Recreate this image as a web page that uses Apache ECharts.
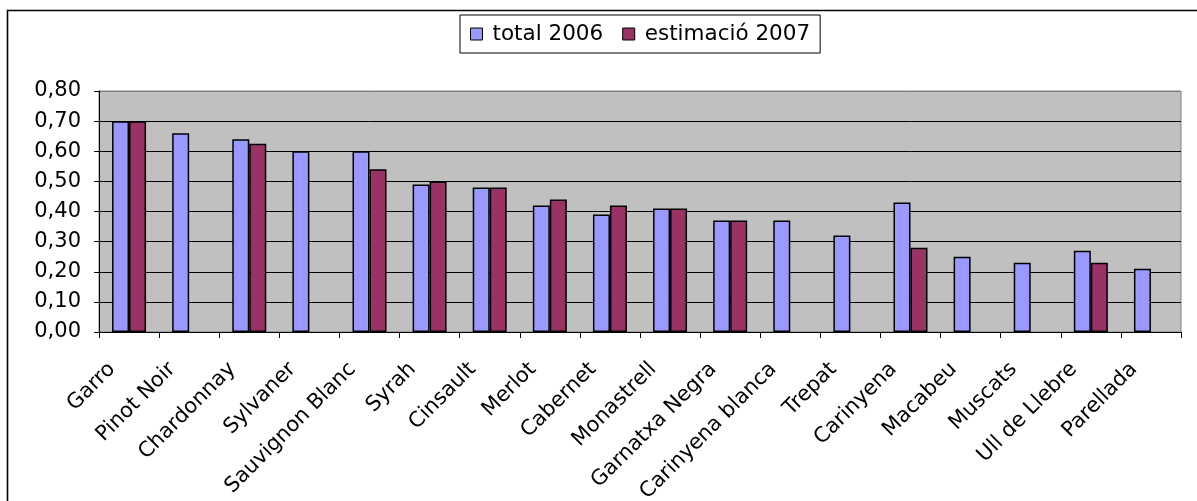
<!DOCTYPE html>
<html>
<head>
<meta charset="utf-8">
<script src="https://cdn.jsdelivr.net/npm/echarts@6/dist/echarts.min.js"></script>
<style>
html,body{margin:0;padding:0;background:#fff;}
#chart{width:1197px;height:501px;}
</style>
</head>
<body>
<div id="chart"></div>
<script>
const categories = ["Garro","Pinot Noir","Chardonnay","Sylvaner","Sauvignon Blanc","Syrah","Cinsault","Merlot","Cabernet","Monastrell","Garnatxa Negra","Carinyena blanca","Trepat","Carinyena","Macabeu","Muscats","Ull de Llebre","Parellada"];
const total2006 = [0.70,0.66,0.64,0.60,0.60,0.49,0.48,0.42,0.39,0.41,0.37,0.37,0.32,0.43,0.25,0.23,0.27,0.21];
const estimacio2007 = [0.70,null,0.625,null,0.54,0.50,0.48,0.44,0.42,0.41,0.37,null,null,0.28,null,null,0.23,null];
const seriesNames = ["total 2006","estimació 2007"];
const yTicks = {min:0, max:0.8, interval:0.1};

const FONT = "DejaVu Sans";
const chart = echarts.init(document.getElementById('chart'), null, {renderer:'canvas'});
const gridColors = [];
for (let i = 0; i < 8; i++) gridColors.push('#000');
gridColors.push('#808080');

chart.setOption({
  animation:false,
  backgroundColor:'#fff',
  textStyle:{fontFamily:FONT, color:'#000'},
  graphic:[{type:'rect', shape:{x:7.5,y:10.5,width:1400,height:700}, style:{fill:null, stroke:'#000', lineWidth:1.6}, z:-1}],
  legend:{
    left:460, top:15,
    orient:'horizontal',
    itemWidth:12, itemHeight:12, itemGap:19,
    padding:[8,10,8,10],
    borderColor:'#000', borderWidth:1,
    icon:'rect',
    itemStyle:{borderColor:'#000', borderWidth:1},
    textStyle:{fontFamily:FONT, fontSize:21.5, color:'#000', lineHeight:22, padding:[0,0,0,5]}
  },
  grid:{left:99, right:16, top:91, bottom:169, containLabel:false, outerBoundsMode:'none', show:true, backgroundColor:'#c0c0c0', borderColor:'#808080', borderWidth:1},
  xAxis:{
    type:'category', data:categories,
    axisLine:{lineStyle:{color:'#000', width:1}},
    axisTick:{show:true, interval:0, length:6, lineStyle:{color:'#000'}},
    axisLabel:{interval:0, rotate:45, margin:17, fontFamily:FONT, fontSize:21, color:'#000', padding:[0,24,0,0]}
  },
  yAxis:{
    type:'value', min:yTicks.min, max:yTicks.max, interval:yTicks.interval,
    axisLine:{show:true, lineStyle:{color:'#000', width:1}},
    axisTick:{show:true, length:5, lineStyle:{color:'#000'}},
    axisLabel:{margin:18, fontFamily:FONT, fontSize:21, color:'#000', formatter:v => v.toFixed(2).replace('.', ',')},
    splitLine:{show:true, lineStyle:{color:gridColors, width:1}}
  },
  series:[
    {name:seriesNames[0], type:'bar', data:total2006, barWidth:17, barGap:'0%', itemStyle:{color:'#9999ff', borderColor:'#000', borderWidth:1.5}},
    {name:seriesNames[1], type:'bar', data:estimacio2007, barWidth:17, barGap:'0%', itemStyle:{color:'#993366', borderColor:'#000', borderWidth:1.5}}
  ]
});
</script>
</body>
</html>
